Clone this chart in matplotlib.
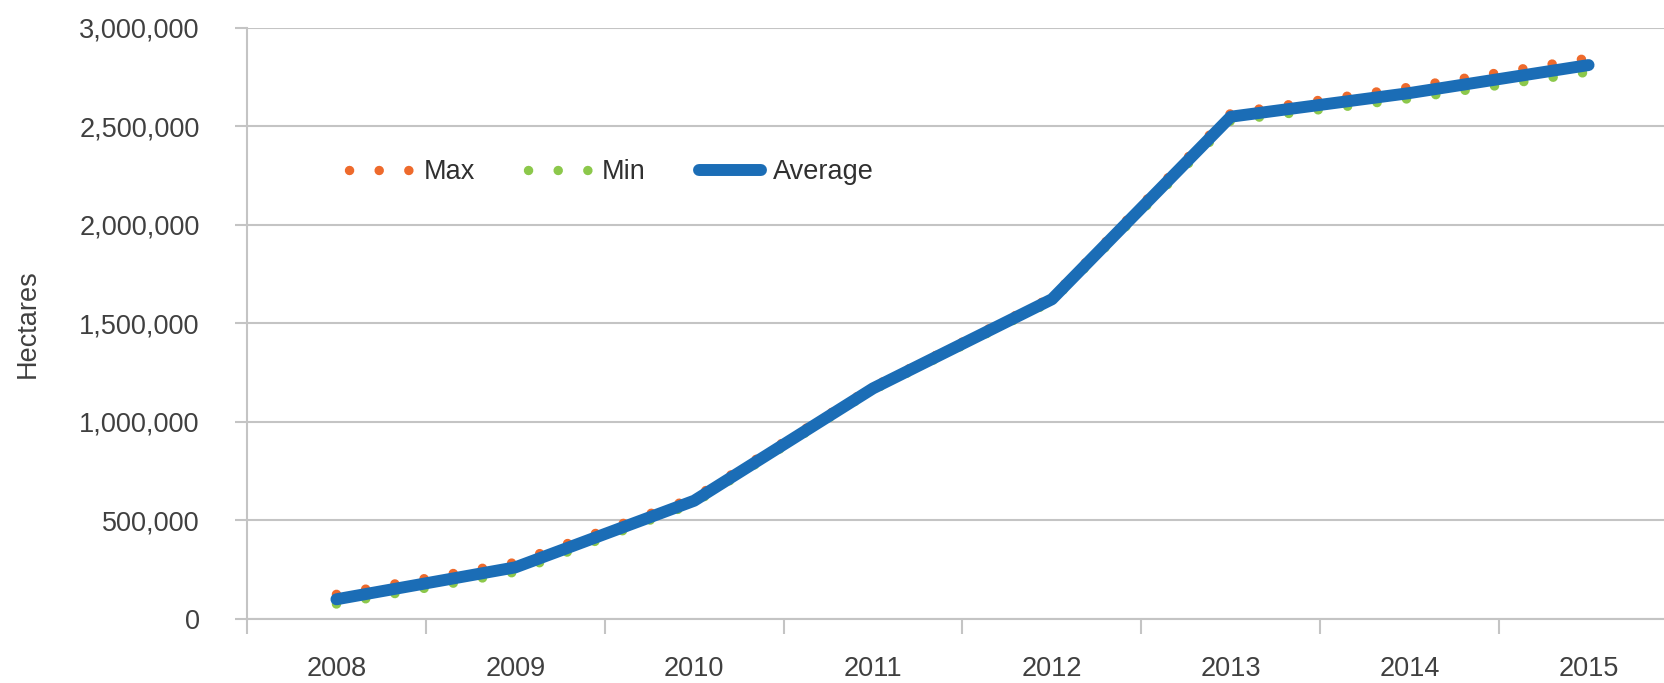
import matplotlib
matplotlib.use("Agg")
import matplotlib.pyplot as plt
from matplotlib.ticker import FuncFormatter, FixedLocator

years = ["2008", "2009", "2010", "2011", "2012", "2013", "2014", "2015"]
avg_vals = [100000, 262000, 600000, 1170000, 1622000, 2548000, 2668000, 2810000]
max_vals = [125000, 287000, 615000, 1178000, 1632000, 2566000, 2698000, 2845000]
min_vals = [76000, 238000, 588000, 1162000, 1612000, 2528000, 2640000, 2775000]

plt.rcParams['font.family'] = ['Liberation Sans', 'DejaVu Sans']
FS = 19.5
TXT = '#404040'
GRID = '#c4c4c4'

fig = plt.figure(figsize=(16.65, 6.83), dpi=100)
ax = fig.add_axes([247/1665, (683-619)/683, (1678-247)/1665, (619-27.6)/683])

x = list(range(len(years)))
dot = (0, (0.01, 3.13))
ax.plot(x, max_vals, color='#ee6a2c', lw=6.8, linestyle=dot, dash_capstyle='round', label='Max', zorder=3)
ax.plot(x, min_vals, color='#8cc84b', lw=6.8, linestyle=dot, dash_capstyle='round', label='Min', zorder=3)
ax.plot(x, avg_vals, color='#1b6db6', lw=8.6, solid_capstyle='round', solid_joinstyle='round', label='Average', zorder=4)

ax.set_xlim(-0.5, len(years) - 0.5)
ax.set_ylim(0, 3000000)
ax.set_yticks([0, 500000, 1000000, 1500000, 2000000, 2500000, 3000000])
ax.yaxis.set_major_formatter(FuncFormatter(lambda v, p: f"{int(v):,}"))
ax.set_xticks(x)
ax.set_xticklabels(years)
ax.xaxis.set_minor_locator(FixedLocator([i - 0.5 for i in range(len(years) + 1)]))

ax.grid(axis='y', color=GRID, lw=1.5, zorder=0)
ax.set_axisbelow(True)
for s in ['top', 'right']:
    ax.spines[s].set_visible(False)
for s in ['left', 'bottom']:
    ax.spines[s].set_color(GRID)
    ax.spines[s].set_linewidth(1.5)

ax.tick_params(axis='y', length=9, width=1.5, color=GRID, pad=25, labelsize=FS, labelcolor=TXT)
ax.tick_params(axis='x', which='major', length=0, pad=26.5, labelsize=FS, labelcolor=TXT)
ax.tick_params(axis='x', which='minor', length=11, width=1.5, color=GRID)

ax.set_ylabel("Hectares", fontsize=FS, color=TXT)
ax.yaxis.set_label_coords(-(247-28)/(1678-247), 0.5)
ax.yaxis.label.set_va('center')

leg = ax.legend(loc='center left', bbox_to_anchor=((349-247)/(1678-247), (619-172)/(619-27.6)),
                ncol=3, frameon=False, fontsize=FS, handlelength=2.3, handletextpad=0.45,
                columnspacing=1.95, borderaxespad=0, borderpad=0)
for t in leg.get_texts():
    t.set_color('#303030')

fig.savefig("out.png", dpi=100)
